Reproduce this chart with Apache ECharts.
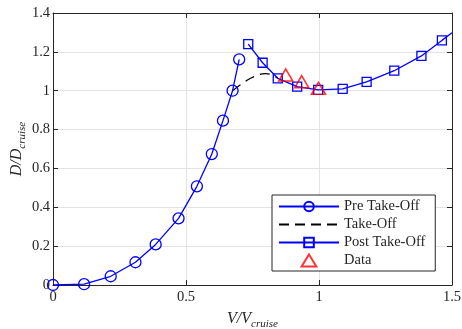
<!DOCTYPE html>
<html>
<head>
<meta charset="utf-8">
<script src="https://cdn.jsdelivr.net/npm/echarts@6/dist/echarts.min.js"></script>
<style>
  html, body { margin: 0; padding: 0; background: #fff; }
  #chart { width: 462px; height: 329px; }
</style>
</head>
<body>
<div id="chart"></div>
<script>
// pre take-off
var preX = [0, 0.117, 0.217, 0.31, 0.386, 0.472, 0.541, 0.597, 0.639, 0.675, 0.70];
var preY = [0, 0.004, 0.045, 0.117, 0.209, 0.343, 0.508, 0.674, 0.846, 1.0, 1.161];
// take-off transition
var takeX = [0.675, 0.72, 0.76, 0.80, 0.845];
var takeY = [1.0, 1.045, 1.075, 1.088, 1.064];
// post take-off
var postX = [0.734, 0.788, 0.845, 0.918, 0.997, 1.089, 1.179, 1.283, 1.385, 1.462, 1.5];
var postY = [1.240, 1.144, 1.064, 1.021, 1.004, 1.009, 1.046, 1.103, 1.179, 1.259, 1.298];
// measured data
var dataX = [0.875, 0.935, 0.998];
var dataY = [1.081, 1.046, 1.012];

var xTicks = [0, 0.5, 1, 1.5];
var yTicks = [0, 0.2, 0.4, 0.6, 0.8, 1, 1.2, 1.4];

function pairs(xs, ys) {
    return xs.map(function (x, i) { return [x, ys[i]]; });
}

var serif = "'Liberation Serif', 'DejaVu Serif', serif";
var axisColor = '#262626';
// triangle as a path so the legend keeps its aspect
var triPath = 'path://M8,0L16,13L0,13Z';

var myChart = echarts.init(document.getElementById('chart'));

var postData = pairs(postX, postY);
// last point only carries the line to the frame edge
postData[postData.length - 1] = { value: postData[postData.length - 1], symbol: 'none' };

var nameRich = {
    i: { fontFamily: serif, fontStyle: 'italic', fontSize: 16, color: axisColor, lineHeight: 16, verticalAlign: 'top' },
    s: { fontFamily: serif, fontStyle: 'italic', fontSize: 11, color: axisColor, lineHeight: 11, verticalAlign: 'top', padding: [8, 0, 0, 0] }
};

myChart.setOption({
    animation: false,
    grid: { left: 53, right: 10, top: 13, bottom: 44, outerBoundsMode: 'none' },
    legend: {
        orient: 'vertical',
        left: 272,
        top: 195,
        itemWidth: 60,
        itemHeight: 12,
        itemGap: 3,
        padding: [4, 10, 3, 6],
        symbolKeepAspect: true,
        backgroundColor: '#fff',
        borderColor: axisColor,
        borderWidth: 1,
        textStyle: { fontFamily: serif, fontSize: 14.5, color: axisColor },
        data: [
            'Pre Take-Off',
            { name: 'Take-Off', itemStyle: { opacity: 0 } },
            'Post Take-Off',
            { name: 'Data', icon: triPath }
        ]
    },
    xAxis: [
        {
            type: 'value',
            min: xTicks[0],
            max: xTicks[xTicks.length - 1],
            interval: 0.5,
            position: 'bottom',
            name: '{i|V/V}{s|cruise}',
            nameLocation: 'middle',
            nameGap: 26,
            nameMoveOverlap: false,
            nameTextStyle: { rich: nameRich },
            axisLine: { show: true, lineStyle: { color: axisColor, width: 1 } },
            axisTick: { show: true, inside: true, length: 5, lineStyle: { color: axisColor } },
            axisLabel: { fontFamily: serif, fontSize: 14.5, color: axisColor, margin: 5 },
            splitLine: { show: true, lineStyle: { color: '#e3e3e3', width: 1 } }
        },
        {
            type: 'value',
            min: xTicks[0],
            max: xTicks[xTicks.length - 1],
            interval: 0.5,
            position: 'top',
            axisLine: { show: true, onZero: false, lineStyle: { color: axisColor, width: 1 } },
            axisTick: { show: true, inside: true, length: 5, lineStyle: { color: axisColor } },
            axisLabel: { show: false },
            splitLine: { show: false }
        }
    ],
    yAxis: [
        {
            type: 'value',
            min: yTicks[0],
            max: yTicks[yTicks.length - 1],
            interval: 0.2,
            position: 'left',
            name: '{i|D/D}{s|cruise}',
            nameLocation: 'middle',
            nameGap: 28,
            nameMoveOverlap: false,
            nameTextStyle: { rich: nameRich },
            axisLine: { show: true, onZero: false, lineStyle: { color: axisColor, width: 1 } },
            axisTick: { show: true, inside: true, length: 5, lineStyle: { color: axisColor } },
            axisLabel: { fontFamily: serif, fontSize: 14.5, color: axisColor, margin: 3 },
            splitLine: { show: true, lineStyle: { color: '#e3e3e3', width: 1 } }
        },
        {
            type: 'value',
            min: yTicks[0],
            max: yTicks[yTicks.length - 1],
            interval: 0.2,
            position: 'right',
            axisLine: { show: true, onZero: false, lineStyle: { color: axisColor, width: 1 } },
            axisTick: { show: true, inside: true, length: 5, lineStyle: { color: axisColor } },
            axisLabel: { show: false },
            splitLine: { show: false }
        }
    ],
    series: [
        {
            name: 'Pre Take-Off',
            type: 'line',
            data: pairs(preX, preY),
            symbol: 'circle',
            symbolSize: 11,
            showAllSymbol: true,
            itemStyle: { color: 'rgba(0,0,0,0)', borderColor: '#0000ff', borderWidth: 1.3 },
            lineStyle: { color: '#0000ff', width: 1.3 },
            z: 3
        },
        {
            name: 'Take-Off',
            type: 'line',
            data: pairs(takeX, takeY),
            smooth: true,
            symbol: 'none',
            itemStyle: { color: '#000' },
            lineStyle: { color: '#000', width: 1.3, type: [10, 6] },
            z: 2
        },
        {
            name: 'Post Take-Off',
            type: 'line',
            data: postData,
            symbol: 'rect',
            symbolSize: 9,
            showAllSymbol: true,
            itemStyle: { color: 'rgba(0,0,0,0)', borderColor: '#0000ff', borderWidth: 1.3 },
            lineStyle: { color: '#0000ff', width: 1.3 },
            z: 3
        },
        {
            name: 'Data',
            type: 'scatter',
            data: pairs(dataX, dataY),
            symbol: 'triangle',
            symbolSize: [14, 12],
            itemStyle: { color: 'rgba(0,0,0,0)', borderColor: '#ff0000', borderWidth: 1.6 },
            z: 4
        }
    ]
});
</script>
</body>
</html>
